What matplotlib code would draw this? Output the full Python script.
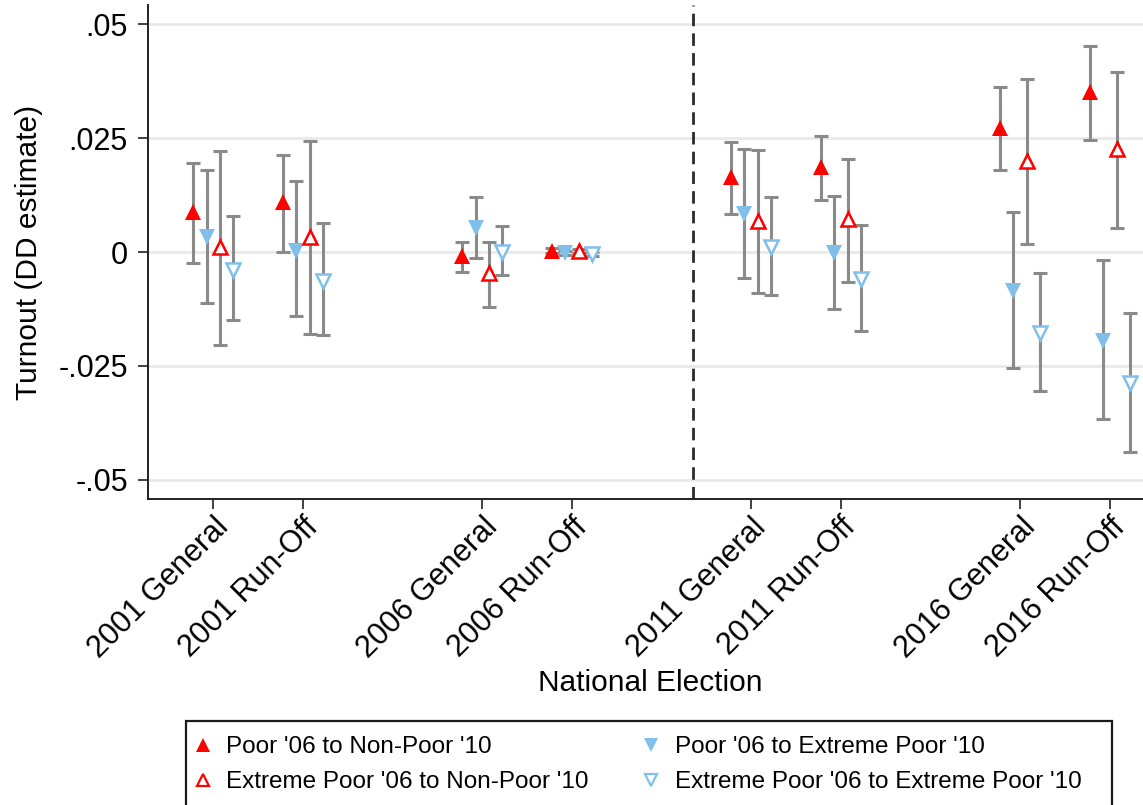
import matplotlib
matplotlib.use("Agg")
import matplotlib.pyplot as plt
from matplotlib.lines import Line2D
from matplotlib.patches import Rectangle

plt.rcParams["font.family"] = ["Liberation Sans", "DejaVu Sans"]

# elections and where they sit on the x axis (run-offs next to their general)
elections = ["2001 General", "2001 Run-Off", "2006 General", "2006 Run-Off",
             "2011 General", "2011 Run-Off", "2016 General", "2016 Run-Off"]
xpos = [1, 2, 4, 5, 7, 8, 10, 11]
cutoff = 6.35  # 2010 reclassification

series_names = ["Poor '06 to Non-Poor '10", "Poor '06 to Extreme Poor '10",
                "Extreme Poor '06 to Non-Poor '10", "Extreme Poor '06 to Extreme Poor '10"]

# point estimates and 95% CI bounds, one list per transition group
poor_nonpoor = [0.0088, 0.0110, -0.0009, 0.0003, 0.0164, 0.0186, 0.0273, 0.0352]
poor_nonpoor_lo = [-0.0024, 0.0001, -0.0044, -0.0002, 0.0083, 0.0114, 0.0179, 0.0246]
poor_nonpoor_hi = [0.0196, 0.0213, 0.0021, 0.0008, 0.0242, 0.0254, 0.0361, 0.0452]

poor_extpoor = [0.0033, 0.0003, 0.0052, -0.0003, 0.0083, -0.0003, -0.0086, -0.0195]
poor_extpoor_lo = [-0.0111, -0.0140, -0.0013, -0.0007, -0.0057, -0.0124, -0.0255, -0.0366]
poor_extpoor_hi = [0.0180, 0.0155, 0.0121, 0.0002, 0.0227, 0.0122, 0.0088, -0.0018]

extpoor_nonpoor = [0.0012, 0.0034, -0.0047, 0.0002, 0.0068, 0.0072, 0.0200, 0.0226]
extpoor_nonpoor_lo = [-0.0204, -0.0180, -0.0120, -0.0002, -0.0091, -0.0066, 0.0017, 0.0052]
extpoor_nonpoor_hi = [0.0221, 0.0243, 0.0023, 0.0006, 0.0223, 0.0205, 0.0380, 0.0394]

extpoor_extpoor = [-0.0039, -0.0063, -0.0001, -0.0004, 0.0012, -0.0060, -0.0178, -0.0287]
extpoor_extpoor_lo = [-0.0150, -0.0183, -0.0051, -0.0008, -0.0094, -0.0174, -0.0306, -0.0439]
extpoor_extpoor_hi = [0.0078, 0.0064, 0.0056, 0.0000, 0.0120, 0.0059, -0.0045, -0.0133]

yticks = [-0.05, -0.025, 0, 0.025, 0.05]
yticklabels = ["-.05", "-.025", "0", ".025", ".05"]

RED = "#FF0000"
BLUE = "#80BFEA"
BAR = "#8A8A8A"

series = [
    (poor_nonpoor, poor_nonpoor_lo, poor_nonpoor_hi, "^", RED, RED),
    (poor_extpoor, poor_extpoor_lo, poor_extpoor_hi, "v", BLUE, BLUE),
    (extpoor_nonpoor, extpoor_nonpoor_lo, extpoor_nonpoor_hi, "^", "white", RED),
    (extpoor_extpoor, extpoor_extpoor_lo, extpoor_extpoor_hi, "v", "white", BLUE),
]
offsets = [-0.225, -0.075, 0.075, 0.225]

fig = plt.figure(figsize=(11.43, 8.05), dpi=100)
ax = fig.add_axes([148 / 1143, 1 - 499 / 805, 1 - 148 / 1143, (499 - 5) / 805])

handles = []
for (est, lo, hi, mk, face, edge), off in zip(series, offsets):
    xs = [x + off for x in xpos]
    err = [[e - l for e, l in zip(est, lo)], [h - e for e, h in zip(est, hi)]]
    ax.errorbar(xs, est, yerr=err, fmt="none", ecolor=BAR, elinewidth=2.2,
                capsize=5.3, capthick=2.2, zorder=2)
    hollow = face == "white"
    ax.plot(xs, est, linestyle="none", marker=mk, markersize=9.5 if hollow else 11,
            markerfacecolor=face, markeredgecolor=edge,
            markeredgewidth=1.8 if hollow else 0, zorder=3)
    handles.append(Line2D([], [], linestyle="none", marker=mk,
                          markersize=8.5 if hollow else 10.5, markerfacecolor=face,
                          markeredgecolor=edge, markeredgewidth=1.6 if hollow else 0))

ax.axvline(cutoff, color="#2A2A2A", lw=2, linestyle=(0, (4.5, 2.6)), zorder=1)

ax.set_xlim(0.272, 11.37)
ax.set_ylim(-0.0542, 0.0542)
ax.set_yticks(yticks)
ax.set_yticklabels(yticklabels)
ax.set_xticks(xpos)
ax.set_xticklabels(elections, rotation=45, ha="right", va="top",
                   rotation_mode="anchor")
ax.grid(axis="y", color="#E8E8E8", lw=1.9, zorder=0)
ax.set_axisbelow(True)

for side in ["top", "right"]:
    ax.spines[side].set_visible(False)
for side in ["left", "bottom"]:
    ax.spines[side].set_color("#222222")
    ax.spines[side].set_linewidth(1.4)
ax.tick_params(axis="both", length=7.5, width=1.3, color="#333333",
               labelsize=22)
ax.tick_params(axis="y", pad=7)
ax.tick_params(axis="x", pad=2)

ax.set_xlabel("National Election", fontsize=21.5)
ax.xaxis.set_label_coords(0.505, -0.345)
ax.set_ylabel("Turnout (DD estimate)", fontsize=21.5)
ax.yaxis.set_label_coords(-0.106, 0.5)

# legend reads across rows: fill order for a two-column legend is column-wise
order = [0, 2, 1, 3]
fig.legend([handles[i] for i in order], [series_names[i] for i in order],
           loc="upper left", bbox_to_anchor=(190.5 / 1143, 1 - 736 / 805),
           ncol=2, frameon=False, borderpad=0, borderaxespad=0, fontsize=17.5,
           handlelength=1.0, handletextpad=0.47, columnspacing=2.08,
           labelspacing=0.55)
fig.add_artist(Rectangle((185.7 / 1143, -0.05), (1112 - 185.7) / 1143,
                         0.05 + (805 - 721) / 805, transform=fig.transFigure,
                         fill=False, edgecolor="#1A1A1A", lw=1.6, clip_on=False))

fig.savefig("out.png", dpi=100)
